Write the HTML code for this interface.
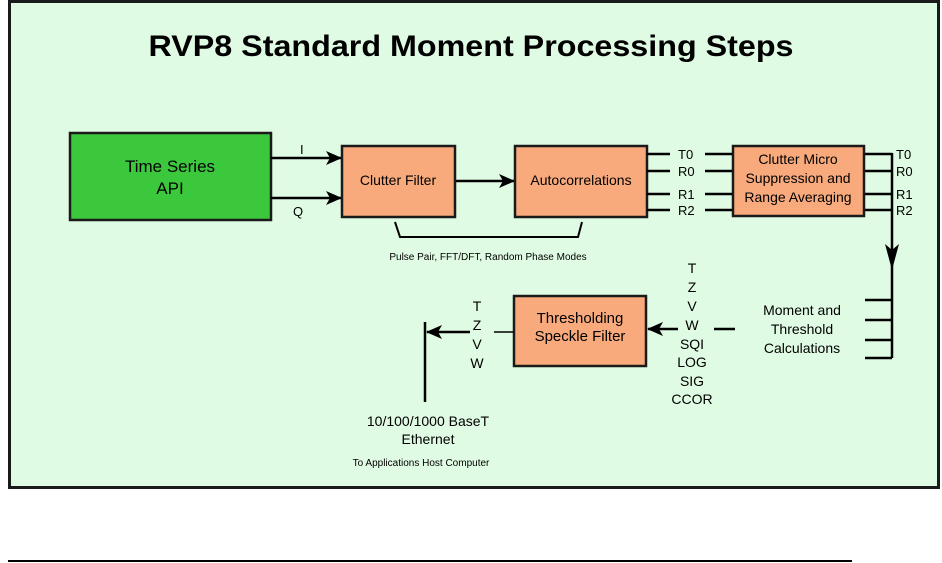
<!DOCTYPE html>
<html><head><style>
html,body{margin:0;padding:0;background:#fff;}
svg{display:block;}
text{font-family:"Liberation Sans",sans-serif;fill:#000;}
</style></head><body>
<svg width="942" height="563" viewBox="0 0 942 563" xmlns="http://www.w3.org/2000/svg">
<defs>
<marker id="ah" markerWidth="16" markerHeight="14" refX="15" refY="7" orient="auto" markerUnits="userSpaceOnUse">
<path d="M0,0 L16,7 L0,14 L4,7 Z" fill="#000"/></marker>
</defs>
<rect x="9.5" y="1.5" width="929" height="486" fill="#e0fbe3" stroke="#1a1a1a" stroke-width="3"/>
<text x="471" y="56" font-size="30" font-weight="bold" text-anchor="middle" textLength="645" lengthAdjust="spacingAndGlyphs">RVP8 Standard Moment Processing Steps</text>

<rect x="70" y="133" width="201" height="87" fill="#3cc83c" stroke="#1a1a1a" stroke-width="2.5"/>
<text x="170" y="172" font-size="17" text-anchor="middle">Time Series</text>
<text x="170" y="194" font-size="17" text-anchor="middle">API</text>

<g stroke="#000" stroke-width="2.5" fill="none">
<line x1="271" y1="158" x2="341" y2="158" marker-end="url(#ah)"/>
<line x1="271" y1="198" x2="341" y2="198" marker-end="url(#ah)"/>
<line x1="455" y1="181" x2="514" y2="181" marker-end="url(#ah)"/>
<polyline points="395,222 400,237 578,237 582,222" stroke-width="2"/>
</g>
<text x="300" y="154" font-size="13">I</text>
<text x="293" y="216" font-size="13">Q</text>

<rect x="342" y="146" width="113" height="71" fill="#f8aa7c" stroke="#1a1a1a" stroke-width="2.5"/>
<text x="398" y="185" font-size="14" text-anchor="middle">Clutter Filter</text>
<rect x="515" y="146" width="132" height="71" fill="#f8aa7c" stroke="#1a1a1a" stroke-width="2.5"/>
<text x="581" y="185" font-size="14" text-anchor="middle">Autocorrelations</text>
<text x="488" y="260" font-size="10" text-anchor="middle">Pulse Pair, FFT/DFT, Random Phase Modes</text>

<g stroke="#000" stroke-width="2.5">
<line x1="647" y1="154" x2="670" y2="154"/><line x1="647" y1="171" x2="670" y2="171"/>
<line x1="647" y1="194" x2="670" y2="194"/><line x1="647" y1="210" x2="670" y2="210"/>
<line x1="705" y1="154" x2="733" y2="154"/><line x1="705" y1="171" x2="733" y2="171"/>
<line x1="705" y1="194" x2="733" y2="194"/><line x1="705" y1="210" x2="733" y2="210"/>
<line x1="864" y1="154" x2="892" y2="154"/><line x1="864" y1="171" x2="892" y2="171"/>
<line x1="864" y1="194" x2="892" y2="194"/><line x1="864" y1="210" x2="892" y2="210"/>
<line x1="892" y1="153" x2="892" y2="358"/>
<line x1="865" y1="300" x2="892" y2="300"/><line x1="865" y1="320" x2="892" y2="320"/>
<line x1="865" y1="340" x2="892" y2="340"/><line x1="865" y1="358" x2="892" y2="358"/>
</g>
<path d="M885,244 L892,270 L899,244 L892,250 Z" fill="#000"/>
<g font-size="13">
<text x="678" y="159">T0</text><text x="678" y="176">R0</text><text x="678" y="199">R1</text><text x="678" y="215">R2</text>
<text x="896" y="159">T0</text><text x="896" y="176">R0</text><text x="896" y="199">R1</text><text x="896" y="215">R2</text>
</g>
<rect x="733" y="146" width="131" height="70" fill="#f8aa7c" stroke="#1a1a1a" stroke-width="2.5"/>
<g font-size="14" text-anchor="middle">
<text x="798" y="164">Clutter Micro</text>
<text x="798" y="183">Suppression and</text>
<text x="798" y="202">Range Averaging</text>
</g>

<g font-size="14" text-anchor="middle">
<text x="802" y="315">Moment  and</text>
<text x="802" y="334">Threshold</text>
<text x="802" y="353">Calculations</text>
</g>
<g font-size="14" text-anchor="middle">
<text x="692" y="273">T</text><text x="692" y="292">Z</text><text x="692" y="311">V</text><text x="692" y="330">W</text>
<text x="692" y="349">SQI</text><text x="692" y="367">LOG</text><text x="692" y="386">SIG</text><text x="692" y="404">CCOR</text>
</g>
<line x1="714" y1="329" x2="735" y2="329" stroke="#000" stroke-width="2.5"/>
<line x1="678" y1="329" x2="648" y2="329" stroke="#000" stroke-width="2.5" marker-end="url(#ah)"/>

<rect x="514" y="296" width="132" height="70" fill="#f8aa7c" stroke="#1a1a1a" stroke-width="2.5"/>
<g font-size="15" text-anchor="middle">
<text x="580" y="323">Thresholding</text>
<text x="580" y="341">Speckle Filter</text>
</g>
<line x1="494" y1="332" x2="514" y2="332" stroke="#000" stroke-width="1.5"/>
<line x1="470" y1="332" x2="427" y2="332" stroke="#000" stroke-width="2.5" marker-end="url(#ah)"/>
<line x1="425" y1="322" x2="425" y2="402" stroke="#000" stroke-width="2.5"/>
<g font-size="14" text-anchor="middle">
<text x="477" y="311">T</text><text x="477" y="330">Z</text><text x="477" y="349">V</text><text x="477" y="368">W</text>
</g>
<text x="428" y="426" font-size="14" text-anchor="middle">10/100/1000 BaseT</text>
<text x="428" y="444" font-size="14" text-anchor="middle">Ethernet</text>
<text x="421" y="466" font-size="10" text-anchor="middle">To Applications Host Computer</text>

<line x1="8" y1="561" x2="852" y2="561" stroke="#000" stroke-width="2"/>
</svg>
</body></html>
